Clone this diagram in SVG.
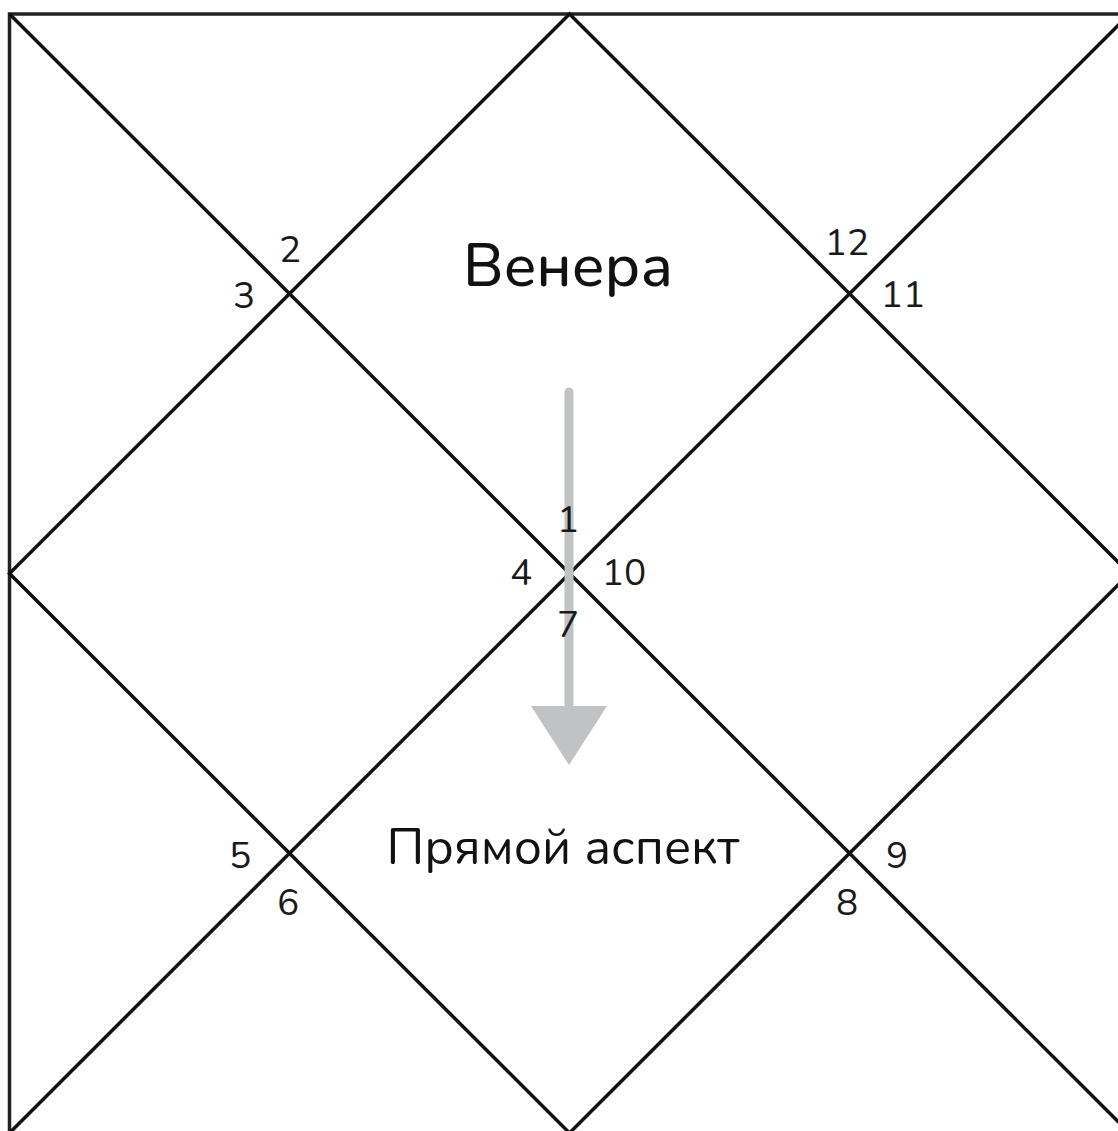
<svg xmlns="http://www.w3.org/2000/svg" width="1118" height="1131" viewBox="0 0 1118 1131">
<style>
.ln{stroke:#111;stroke-width:3.5;fill:none}
.num{font-family:"Nunito","Lato","Open Sans",sans-serif;font-size:37px;fill:#1a1a1a;text-anchor:middle}
.lbl{font-family:"Nunito","Lato","Open Sans",sans-serif;fill:#111;text-anchor:middle}
</style>
<rect width="1118" height="1131" fill="#fff"/>
<g id="connectors">
<rect x="9.5" y="14" width="1120" height="1119" fill="none" stroke="#222" stroke-width="3.5"/>
<line class="ln" x1="9.5" y1="14" x2="1129.5" y2="1133"/>
<line class="ln" x1="1129.5" y1="14" x2="9.5" y2="1133"/>
<polygon class="ln" points="569.5,14 1129.5,573.5 569.5,1133 9.5,573.5"/>
</g>
<g id="arrow">
<line x1="569" y1="392" x2="569" y2="712" stroke="#c1c2c4" stroke-width="9" stroke-linecap="round"/>
<polygon points="531,706 607,706 569,765" fill="#c1c2c4"/>
</g>
<g id="house-labels">
<text class="num" x="290" y="262">2</text>
<text class="num" x="244" y="308">3</text>
<text class="num" x="847" y="255">12</text>
<text class="num" x="903" y="307">11</text>
<text class="num" x="568" y="532">1</text>
<text class="num" x="521" y="585">4</text>
<text class="num" x="624" y="585">10</text>
<text class="num" x="568" y="637">7</text>
<text class="num" x="240" y="868">5</text>
<text class="num" x="288" y="915">6</text>
<text class="num" x="897" y="868">9</text>
<text class="num" x="847" y="915">8</text>
</g>
<g id="venus"><text class="lbl" x="568" y="286" font-size="60" font-weight="500">Венера</text></g>
<g id="aspect"><text class="lbl" x="563" y="864" font-size="50">Прямой аспект</text></g>
</svg>
